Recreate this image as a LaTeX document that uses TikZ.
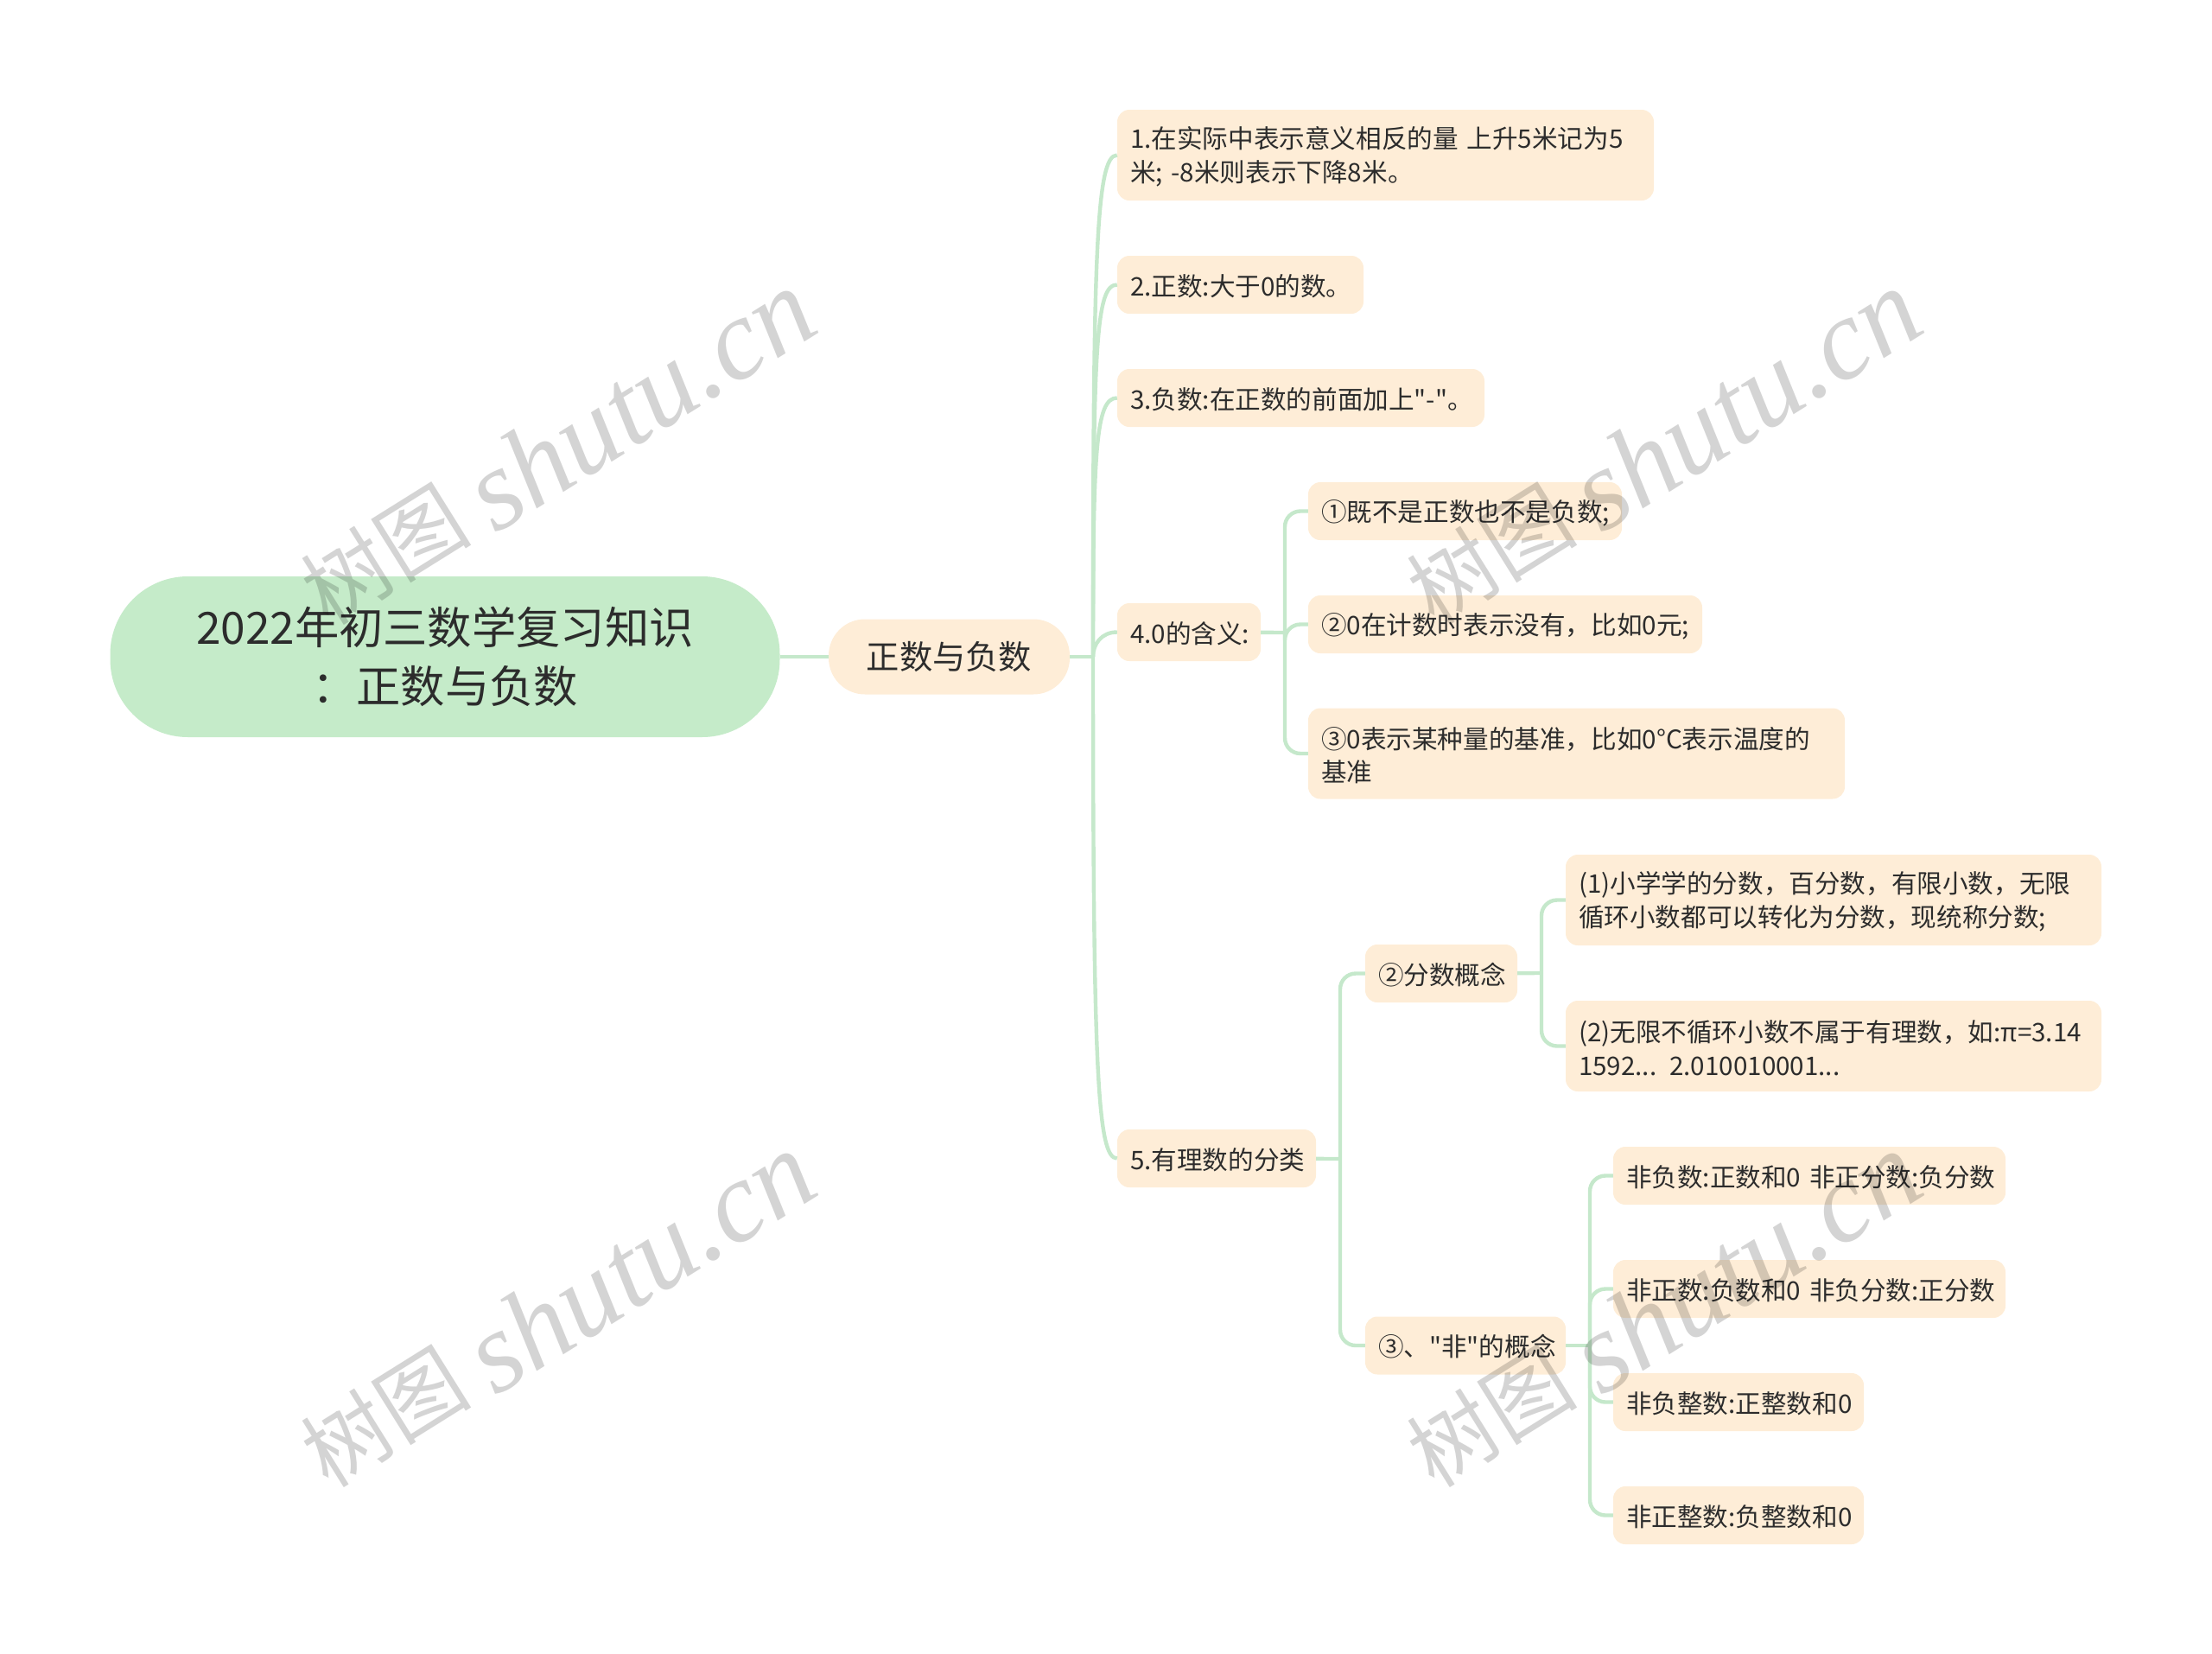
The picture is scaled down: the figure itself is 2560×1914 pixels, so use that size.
\documentclass[tikz,border=0pt]{standalone}
\usepackage{fontspec}
\setmainfont{Noto Sans CJK SC}[Ligatures=TeXOff]
\newfontfamily\wmserif{Liberation Serif}
\definecolor{rootgreen}{HTML}{C5EBC9}
\definecolor{leafpeach}{HTML}{FEEDD7}
\definecolor{linkgreen}{HTML}{C5E8CB}
\definecolor{inkdark}{HTML}{2C2C2C}
\newcommand{\leaffont}{\fontsize{29.6}{38.5}\selectfont\setlength{\lineskiplimit}{-100pt}}
\newcommand{\wmtext}{\raisebox{12pt}{树图} {\wmserif\itshape\fontsize{133}{133}\selectfont shutu.cn}}
\tikzset{
	rootnode/.style = {fill = rootgreen, rounded corners = 90, minimum width = 775, minimum height = 186, inner sep = 0, align = center, text = inkdark, font = \fontsize{51.3}{68}\selectfont},
	subnode/.style = {fill = leafpeach, rounded corners = 42, minimum width = 279, minimum height = 87, inner sep = 0, text = inkdark, font = \fontsize{38.3}{48}\selectfont},
	leaf/.style = {fill = leafpeach, rounded corners = 14, minimum height = 67, inner xsep = 15, inner ysep = 0, align = left, text = inkdark, font = \leaffont, execute at begin node = {\rule[-4pt]{0pt}{33pt}}},
	tallleaf/.style = {leaf, minimum height = 105},
	link/.style = {draw = linkgreen, line width = 4.4},
	wmark/.style = {text = black, opacity = 0.17, rotate = 32, font = \fontsize{99}{99}\selectfont}
}
\begin{document}
\begin{tikzpicture}[x = 1pt, y = -1pt]
	\useasboundingbox (0,0) rectangle (2560,1914);
	% joints
	\coordinate (jmain) at (1265,760);
	\coordinate (jmean) at (1487,732);
	\coordinate (jrat)  at (1551,1341);
	\coordinate (jfrac) at (1784,1126);
	\coordinate (jnon)  at (1840,1557);
	% nodes
	\node[rootnode] (root) at (515,760) {2022年初三数学复习知识\\：正数与负数};
	\node[subnode]  (sub)  at (1098.5,760) {正数与负数};

	\node[tallleaf, text width = 591] (one)   at (1603.5,179.5) {1.在实际中表示意义相反的量 上升5米记为5\\米; -8米则表示下降8米。};
	\node[leaf, text width = 255] (two)   at (1435.5,329.5) {2.正数:大于0的数。};
	\node[leaf, text width = 395] (three) at (1505.5,460.5) {\mbox{3.负数:在正数的前面加上"-"。}};
	\node[leaf, text width = 136] (four)  at (1376,731.5)   {4.0的含义:};
	\node[leaf, text width = 200] (five)  at (1408,1340.5)  {5.有理数的分类};

	\node[leaf, text width = 333] (meana) at (1695.5,591.5) {①既不是正数也不是负数;};
	\node[leaf, text width = 426] (meanb) at (1742,722.5)   {②0在计数时表示没有，比如0元;};
	\node[tallleaf, text width = 591] (meanc) at (1824.5,872)   {③0表示某种量的基准，比如0°C表示温度的\\基准};

	\node[leaf, text width = 146] (frac)  at (1668,1126.5)  {②分数概念};
	\node[leaf, text width = 202] (non)   at (1696,1557)    {③、"非"的概念};

	\node[tallleaf, text width = 590] (fraca) at (2122,1041.5)  {(1)小学学的分数，百分数，有限小数，无限\\循环小数都可以转化为分数，现统称分数;};
	\node[tallleaf, text width = 590] (fracb) at (2122,1210.5)  {(2)无限不循环小数不属于有理数，如:π=3.14\\1592... 2.010010001...};

	\node[leaf, text width = 424] (nona)  at (2094,1360.5)  {\mbox{非负数:正数和0 非正分数:负分数}};
	\node[leaf, text width = 424] (nonb)  at (2094,1491.5)  {\mbox{非正数:负数和0 非负分数:正分数}};
	\node[leaf, text width = 260] (nonc)  at (2012,1622.5)  {非负整数:正整数和0};
	\node[leaf, text width = 260] (nond)  at (2012,1753.5)  {非正整数:负整数和0};
	% links
	\draw[link] (root) -- (sub);
	\draw[link] (sub) -- (jmain);
	\draw[link] (jmain) .. controls (1265,300) and (1268,179.5) .. (one.west);
	\draw[link] (jmain) .. controls (1265,400) and (1268,329.5) .. (two.west);
	\draw[link] (jmain) .. controls (1265,520) and (1268,460.5) .. (three.west);
	\draw[link] (jmain) .. controls (1265,745) and (1275,731.5) .. (four.west);
	\draw[link] (jmain) .. controls (1265,1240) and (1270,1340.5) .. (five.west);

	\draw[link] (four) -- (jmean);
	\draw[link, rounded corners = 18] (jmean) |- (meana);
	\draw[link, rounded corners = 18] (jmean) |- (meanb);
	\draw[link, rounded corners = 18] (jmean) |- (meanc);

	\draw[link] (five) -- (jrat);
	\draw[link, rounded corners = 18] (jrat) |- (frac);
	\draw[link, rounded corners = 18] (jrat) |- (non);

	\draw[link] (frac) -- (jfrac);
	\draw[link, rounded corners = 18] (jfrac) |- (fraca);
	\draw[link, rounded corners = 18] (jfrac) |- (fracb);

	\draw[link] (non) -- (jnon);
	\draw[link, rounded corners = 18] (jnon) |- (nona);
	\draw[link, rounded corners = 18] (jnon) |- (nonb);
	\draw[link, rounded corners = 18] (jnon) |- (nonc);
	\draw[link, rounded corners = 18] (jnon) |- (nond);
	% watermarks
	\node[wmark] (marka) at (645,519)   {\wmtext};
	\node[wmark] (markb) at (1925,519)  {\wmtext};
	\node[wmark] (markc) at (645,1517)  {\wmtext};
	\node[wmark] (markd) at (1925,1517) {\wmtext};
\end{tikzpicture}
\end{document}
